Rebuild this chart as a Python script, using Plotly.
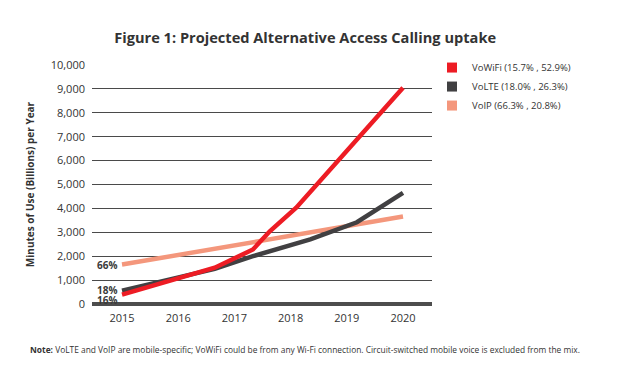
import plotly.graph_objects as go

title = "Figure 1: Projected Alternative Access Calling uptake"
y_title = "Minutes of Use (Billions) per Year"
note = "<b>Note:</b> VoLTE and VoIP are mobile-specific; VoWiFi could be from any Wi-Fi connection. Circuit-switched mobile voice is excluded from the mix."

year_ticks = [2015, 2016, 2017, 2018, 2019, 2020]

# VoWiFi (read at the line's bends)
vowifi_x = [2015, 2016.65, 2017.33, 2017.63, 2018.1, 2020]
vowifi_y = [390, 1520, 2280, 3040, 4030, 9050]
# VoLTE
volte_x = [2015, 2016.65, 2017.33, 2018.35, 2019.18, 2020]
volte_y = [560, 1470, 2000, 2700, 3420, 4650]
# VoIP
voip_x = [2015, 2016, 2017, 2018, 2019, 2020]
voip_y = [1650, 2050, 2450, 2850, 3260, 3660]

names = ["VoWiFi (15.7% , 52.9%)", "VoLTE (18.0% , 26.3%)", "VoIP (66.3% , 20.8%)"]
colors = ["#ED1C24", "#414042", "#F4977C"]
start_labels = ["16%", "18%", "66%"]

series = [(vowifi_x, vowifi_y), (volte_x, volte_y), (voip_x, voip_y)]

fig = go.Figure()
# draw VoIP first, then VoLTE, then VoWiFi on top
for i in [2, 1, 0]:
    xs, ys = series[i]
    fig.add_trace(go.Scatter(x=xs, y=ys, mode="lines", name=names[i],
                             line=dict(color=colors[i], width=4.5), showlegend=False,
                             hoverinfo="skip"))
for i in range(3):
    fig.add_trace(go.Scatter(x=[None], y=[None], mode="markers", name=names[i],
                             marker=dict(symbol="square", size=10, color=colors[i])))

shifts = [-5, 1, 0]
for i in range(3):
    xs, ys = series[i]
    fig.add_annotation(x=xs[0], y=ys[0], text="<b>" + start_labels[i] + "</b>",
                       showarrow=False, xanchor="right", xshift=-3, yshift=shifts[i],
                       font=dict(size=10, color="#3a3a3a"))

fig.add_annotation(x=-0.188, y=-0.192, xref="paper", yref="paper", xanchor="left", yanchor="middle",
                   text=note, showarrow=False, font=dict(size=8.4, color="#333"))

FONT = "Open Sans"
fig.update_layout(
    width=619, height=386,
    margin=dict(l=92, r=187, t=65, b=82),
    paper_bgcolor="white", plot_bgcolor="white",
    font=dict(family=FONT, color="#333", size=10),
    title=dict(text="<b>" + title + "</b>", x=0.493, xanchor="center", y=0.902, yanchor="middle",
               font=dict(size=14.6, color="#333", family=FONT)),
    xaxis=dict(range=[2014.466, 2020.516], tickvals=year_ticks, ticktext=[str(y) for y in year_ticks],
               showgrid=False, zeroline=False, showline=False, ticks="", ticklabelstandoff=6,
               tickfont=dict(size=11, color="#333")),
    yaxis=dict(range=[0, 10000], dtick=1000, tickformat=",d", showgrid=True,
               gridcolor="#4a4a4a", gridwidth=1.2, zeroline=True, zerolinecolor="#4d4d4d",
               zerolinewidth=4, ticks="", ticklabelstandoff=6,
               tickfont=dict(size=11, color="#333")),
    legend=dict(x=1.0, y=1.05, xanchor="left", yanchor="top", font=dict(size=9.5, color="#333"),
                bgcolor="rgba(0,0,0,0)", tracegroupgap=0, itemwidth=30),
)
fig.update_yaxes(title=dict(text="<b>" + y_title + "</b>", font=dict(size=10, color="#333"), standoff=14))

fig.write_html("out.html", config={"displayModeBar": False},
               post_script="document.body.style.margin='0';")
